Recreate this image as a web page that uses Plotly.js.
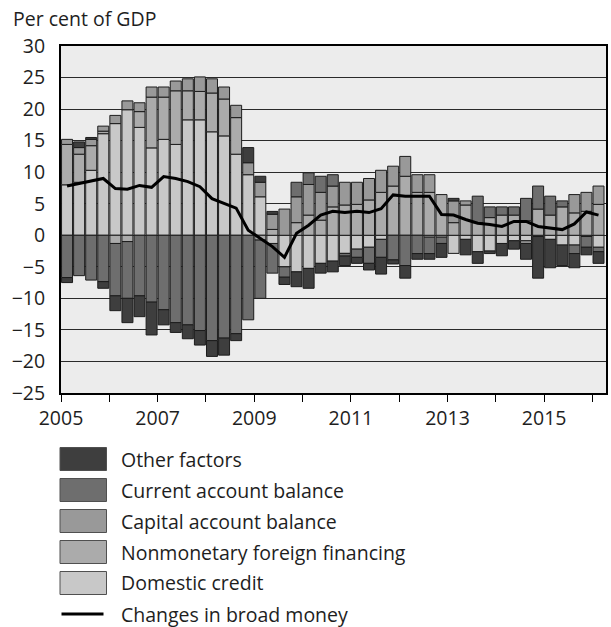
<!DOCTYPE html>
<html>
<head>
<meta charset="utf-8">
<script src="https://cdn.plot.ly/plotly-3.0.1.min.js"></script>
<style>
  html, body { margin: 0; padding: 0; background: #ffffff; }
  #chart { width: 611px; height: 627px; }
</style>
</head>
<body>
<div id="chart"></div>
<script>
// Quarterly observations, 2005Q1 – 2016Q1
const quarters = [
  '2005Q1','2005Q2','2005Q3','2005Q4','2006Q1','2006Q2','2006Q3','2006Q4',
  '2007Q1','2007Q2','2007Q3','2007Q4','2008Q1','2008Q2','2008Q3','2008Q4',
  '2009Q1','2009Q2','2009Q3','2009Q4','2010Q1','2010Q2','2010Q3','2010Q4',
  '2011Q1','2011Q2','2011Q3','2011Q4','2012Q1','2012Q2','2012Q3','2012Q4',
  '2013Q1','2013Q2','2013Q3','2013Q4','2014Q1','2014Q2','2014Q3','2014Q4',
  '2015Q1','2015Q2','2015Q3','2015Q4','2016Q1'
];

const domesticCredit = [
  8.0, 8.4, 10.3, 16.1, 17.7, 19.9, 17.1, 13.85,
  15.2, 14.4, 18.3, 18.3, 16.4, 15.75, 12.85, 9.6,
  6.1, -1.3, -5.0, -5.8, -5.25, -4.45, -4.1, -2.87,
  -2.2, -1.9, -0.65, null, null, null, -0.3, -0.3,
  -2.87, -0.65, -2.6, -2.5, -1.3, -0.87, -0.87, -0.2,
  -0.65, -1.55, -1.55, -0.2, -1.9
];

const nonmonetaryForeignFinancing = [
  6.4, 4.45, 3.9, 0.4, -1.3, -1.0, 2.5, 8.05,
  6.7, 8.5, 4.6, 4.5, 6.15, 5.85, 5.8, null,
  -0.76, 0.93, null, 2.0, 3.2, 2.4, 4.5, 4.8,
  4.9, 5.6, 6.8, 7.8, 9.35, 6.8, 6.8, 6.45,
  2.0, 4.8, 2.0, 2.8, 3.2, 3.2, 2.3, 4.15,
  3.2, 4.5, 3.55, 3.8, 4.9
];

const capitalAccountBalance = [
  0.8, 1.05, 1.0, 0.8, 1.3, 1.4, 1.4, 1.6,
  1.6, 1.55, 1.9, 2.3, 2.25, 1.9, 1.95, 1.9,
  2.3, 2.4, 4.15, 4.1, 4.85, 4.4, 3.3, 3.6,
  3.5, 3.4, 3.5, 3.15, 3.15, 2.8, 2.8, null,
  3.45, 0.65, null, null, null, null, -0.43, null,
  null, null, 2.9, 3.0, 2.9
];

const currentAccountBalance = [
  -6.7, -6.4, -7.1, -7.35, -8.3, -9.0, -9.6, -10.6,
  -11.8, -13.85, -14.2, -15.1, -16.7, -16.3, -15.6, -13.4,
  -9.24, -4.7, -1.65, 2.3, 1.85, 2.55, 1.8, -0.43,
  -1.3, -2.55, -2.85, -3.9, -4.8, -2.9, -2.6, -1.0,
  null, null, 4.2, 1.7, 1.3, 1.3, 3.55, 3.65,
  3.0, 0.95, -1.35, -1.7, -0.7
];

const otherFactors = [
  -0.8, 0.9, 0.3, -1.05, -2.35, -3.85, -3.3, -5.2,
  -2.4, -1.55, -2.2, -2.3, -2.5, -2.7, -1.1, 2.4,
  0.95, 0.45, -1.15, -2.35, -3.15, -1.55, -1.7, -1.5,
  -0.95, -1.05, -2.65, -0.65, -2.0, -0.9, -0.9, -2.2,
  0.4, -2.45, -1.85, -0.4, -1.95, -1.33, -2.5, -6.6,
  -4.5, -3.25, -2.25, -1.2, -1.85
];

const broadMoneyChange = [
  7.8, 8.2, 8.5, 9.0, 7.4, 7.3, 7.9, 7.6,
  9.3, 9.0, 8.5, 7.7, 5.8, 5.1, 4.3, 0.8,
  -0.5, -1.8, -3.5, 0.3, 1.6, 3.2, 3.8, 3.6,
  3.8, 3.6, 4.2, 6.4, 6.2, 6.2, 6.2, 3.3,
  3.2, 2.5, 1.9, 1.7, 1.4, 2.2, 2.2, 1.4,
  1.1, 0.9, 1.8, 3.7, 3.2
];

const seriesNames = ['Domestic credit', 'Nonmonetary foreign financing',
  'Capital account balance', 'Current account balance', 'Other factors'];
const lineName = 'Changes in broad money';
const yearTicks = [2005, 2006, 2007, 2008, 2009, 2010, 2011, 2012, 2013, 2014, 2015, 2016];
const yearLabels = ['2005', '', '2007', '', '2009', '', '2011', '', '2013', '', '2015', ''];

// ---- helpers / styling ----
const xNum = quarters.map(q => {
  const y = parseInt(q.slice(0, 4), 10);
  const k = parseInt(q.slice(5), 10);
  return y + (k - 1) / 4 + 0.125;
});

const colors = ['#c8c8c8', '#ababab', '#999999', '#6e6e6e', '#3e3e3e'];
const seriesData = [domesticCredit, nonmonetaryForeignFinancing,
  capitalAccountBalance, currentAccountBalance, otherFactors];

const traces = seriesData.map((vals, i) => ({
  type: 'bar',
  name: seriesNames[i],
  x: xNum,
  y: vals,
  marker: { color: colors[i], line: { color: '#1c1c1c', width: 1 } },
  showlegend: false,
  hoverinfo: 'x+y+name'
}));

traces.push({
  type: 'scatter',
  mode: 'lines',
  name: lineName,
  x: xNum,
  y: broadMoneyChange,
  line: { color: '#000000', width: 3 },
  showlegend: false
});

// plot area geometry (px)
const W = 611, H = 627;
const M = { l: 61, r: 5, t: 46, b: 234 };
const pw = W - M.l - M.r, ph = H - M.t - M.b;
const px2x = px => (px - M.l) / pw;
const py2y = py => (H - M.b - py) / ph;

const fontFam = '"Open Sans", "Noto Sans", "DejaVu Sans", sans-serif';
const textColor = '#1e1e1e';
const fs = 19.5;

const shapes = [];
const annotations = [];

// custom legend (large swatches like the reference)
const legendItems = [
  { name: 'Other factors', color: colors[4] },
  { name: 'Current account balance', color: colors[3] },
  { name: 'Capital account balance', color: colors[2] },
  { name: 'Nonmonetary foreign financing', color: colors[1] },
  { name: 'Domestic credit', color: colors[0] }
];
const rowY0 = 459, rowStep = 31;
legendItems.forEach((it, i) => {
  const cy = rowY0 + i * rowStep;
  shapes.push({
    type: 'rect', xref: 'paper', yref: 'paper',
    x0: px2x(60), x1: px2x(106.5), y0: py2y(cy + 11.5), y1: py2y(cy - 11.5),
    fillcolor: it.color, line: { color: '#505050', width: 1 }
  });
  annotations.push({
    xref: 'paper', yref: 'paper', x: px2x(119), y: py2y(cy),
    xanchor: 'left', yanchor: 'middle', showarrow: false,
    text: it.name, font: { family: fontFam, size: fs, color: textColor }
  });
});
{
  const cy = rowY0 + 5 * rowStep;
  shapes.push({
    type: 'line', xref: 'paper', yref: 'paper',
    x0: px2x(61.5), x1: px2x(103.5), y0: py2y(cy), y1: py2y(cy),
    line: { color: '#000000', width: 3 }
  });
  annotations.push({
    xref: 'paper', yref: 'paper', x: px2x(119), y: py2y(cy),
    xanchor: 'left', yanchor: 'middle', showarrow: false,
    text: lineName, font: { family: fontFam, size: fs, color: textColor }
  });
}

// unit label
annotations.push({
  xref: 'paper', yref: 'paper', x: px2x(11), y: py2y(18.5),
  xanchor: 'left', yanchor: 'middle', showarrow: false,
  text: 'Per cent of GDP', font: { family: fontFam, size: fs, color: textColor }
});

const layout = {
  width: W, height: H,
  margin: M,
  paper_bgcolor: '#ffffff',
  plot_bgcolor: '#ececec',
  barmode: 'relative',
  bargap: 0.09,
  showlegend: false,
  font: { family: fontFam, size: fs, color: textColor },
  xaxis: {
    range: [2005, 2016.28],
    tickmode: 'array', tickvals: yearTicks, ticktext: yearLabels,
    ticks: 'outside', ticklen: 7, tickwidth: 1, tickcolor: '#000000',
    showgrid: false, zeroline: false,
    showline: true, mirror: true, linecolor: '#000000', linewidth: 2,
    tickfont: { family: fontFam, size: fs, color: textColor }
  },
  yaxis: {
    range: [-25, 30], dtick: 5, tick0: 0,
    ticks: '', showgrid: true, gridcolor: '#2a2a2a', gridwidth: 1,
    zeroline: false,
    showline: true, mirror: true, linecolor: '#000000', linewidth: 2,
    ticklabelstandoff: 10,
    tickfont: { family: fontFam, size: fs, color: textColor }
  },
  shapes: shapes,
  annotations: annotations
};

Plotly.newPlot('chart', traces, layout, { displayModeBar: false, staticPlot: true });
</script>
</body>
</html>
